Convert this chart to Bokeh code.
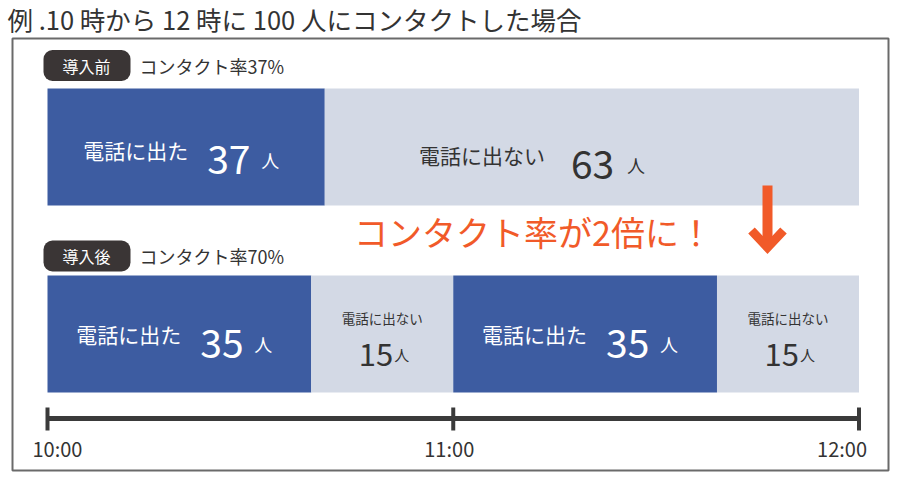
from bokeh.plotting import figure
from bokeh.models import Range1d, ColumnDataSource, BoxAnnotation
from bokeh.core.properties import value
from bokeh.embed import file_html
from bokeh.resources import INLINE

# ---------------- data ----------------
title_text = "例 .10 時から 12 時に 100 人にコンタクトした場合"
row_tags = ["導入前", "導入後"]
row_rates = ["コンタクト率37%", "コンタクト率70%"]
before_status = ["電話に出た", "電話に出ない"]
before_people = [37, 63]
before_minutes = [41, 79]
after_status = ["電話に出た", "電話に出ない", "電話に出た", "電話に出ない"]
after_people = [35, 15, 35, 15]
after_minutes = [39, 21, 39, 21]
tick_minutes = [0, 60, 120]
tick_labels = ["10:00", "11:00", "12:00"]
headline = "コンタクト率が2倍に！"
unit = "人"

# ---------------- style / layout ----------------
W, H = 915, 486
X0, X1 = 47.0, 858.5          # pixel of 10:00 and 12:00
PPM = (X1 - X0) / 120.0
FONT = value("Noto Sans CJK JP")
BLUE = "#3d5ca1"
LIGHT = "#d3d9e5"
DARK = "#333333"
PILL = "#3a3535"
ORANGE = "#f15a29"


def mx(px):
    return (px - X0) / PPM


p = figure(width=W, height=H, output_backend="svg", toolbar_location=None,
           x_range=Range1d(-X0 / PPM, (W - X0) / PPM), y_range=Range1d(H, 0),
           x_axis_type=None, y_axis_type=None, min_border=0,
           outline_line_color=None, background_fill_color="white")
p.grid.visible = False

# frame
p.quad(left=[mx(12)], right=[mx(888)], top=[38], bottom=[470],
       fill_color=None, line_color="#6a6a6a", line_width=2)

# title
p.text(x=[mx(7)], y=[18], text=[title_text], text_font=FONT,
       text_font_size="25.5px", text_color=DARK, text_align="left",
       text_baseline="middle")

rows = [
    dict(status=before_status, people=before_people, minutes=before_minutes,
         top=88, bottom=205, pill_y=65, dy=0),
    dict(status=after_status, people=after_people, minutes=after_minutes,
         top=275, bottom=392, pill_y=255.5, dy=-3),
]

for ri, row in enumerate(rows):
    lefts, rights, cols = [], [], []
    acc = 0
    for m, s in zip(row["minutes"], row["status"]):
        lefts.append(acc)
        acc += m
        rights.append(acc)
        cols.append(BLUE if s == "電話に出た" else LIGHT)
    src = ColumnDataSource(dict(left=lefts, right=rights, color=cols))
    p.quad(left="left", right="right", top=row["top"], bottom=row["bottom"],
           fill_color="color", line_color=None, source=src)

    # pill tag + rate
    p.add_layout(BoxAnnotation(left=mx(43), right=mx(130),
                               top=row["pill_y"] - 15.5, bottom=row["pill_y"] + 15.5,
                               fill_color=PILL, fill_alpha=1, line_color=None,
                               border_radius=9, level="underlay"))
    p.text(x=[mx(86)], y=[row["pill_y"]], text=[row_tags[ri]], text_font=FONT,
           text_font_size="16px", text_color="white", text_align="center",
           text_baseline="middle")
    p.text(x=[mx(139)], y=[row["pill_y"]], text=[row_rates[ri]], text_font=FONT,
           text_font_size="18px", text_color=DARK, text_align="left",
           text_baseline="middle")

    # segment labels
    top = row["top"]
    for l, r, s, n in zip(lefts, rights, row["status"], row["people"]):
        c = (l + r) / 2.0
        answered = s == "電話に出た"
        col = "white" if answered else DARK
        if (r - l) >= 30:
            if answered:
                offs = (-103, 21, 75)
                dy = row["dy"]
            else:
                offs = (-173, -21, 35)
                dy = 5
            p.text(x=[c], y=[top + 61 + dy], text=[s], x_offset=offs[0],
                   text_font=FONT, text_font_size="21px", text_color=col,
                   text_align="left", text_baseline="middle")
            p.text(x=[c], y=[top + 71 + dy], text=[str(n)], x_offset=offs[1],
                   text_font=FONT, text_font_size="39px", text_color=col,
                   text_align="left", text_baseline="alphabetic")
            p.text(x=[c], y=[top + 71 + dy], text=[unit], x_offset=offs[2],
                   text_font=FONT, text_font_size="18px", text_color=col,
                   text_align="left", text_baseline="alphabetic")
        else:
            p.text(x=[c], y=[top + 42], text=[s], text_font=FONT,
                   text_font_size="13.5px", text_color=col, text_align="center",
                   text_baseline="middle")
            p.text(x=[c], y=[top + 79], text=[str(n)], x_offset=11,
                   text_font=FONT, text_font_size="31px", text_color=col,
                   text_align="right", text_baseline="alphabetic")
            p.text(x=[c], y=[top + 79], text=[unit], x_offset=12,
                   text_font=FONT, text_font_size="15px", text_color=col,
                   text_align="left", text_baseline="alphabetic")

# headline + arrow
p.text(x=[mx(533)], y=[231], text=[headline], text_font=FONT,
       text_font_size="34px", text_color=ORANGE, text_align="center",
       text_baseline="middle")
p.segment(x0=[mx(767)], x1=[mx(767)], y0=[185], y1=[244],
          line_color=ORANGE, line_width=10)
p.line(x=[mx(751), mx(767), mx(783)], y=[230, 247, 230],
       line_color=ORANGE, line_width=9, line_join="miter")

# timeline
p.segment(x0=[min(tick_minutes)], x1=[max(tick_minutes)], y0=[418], y1=[418],
          line_color="#3a3a3a", line_width=5)
p.segment(x0=tick_minutes, x1=tick_minutes, y0=[407] * 3, y1=[430] * 3,
          line_color="#3a3a3a", line_width=4)
aligns = ["left", "center", "right"]
xoffs = [-15, -4, 8]
for t, lab, a, xo in zip(tick_minutes, tick_labels, aligns, xoffs):
    p.text(x=[t], y=[448], text=[lab], x_offset=xo, text_font=FONT,
           text_font_size="20px", text_color=DARK, text_align=a,
           text_baseline="middle")

open("out.html", "w").write(file_html(p, INLINE))
